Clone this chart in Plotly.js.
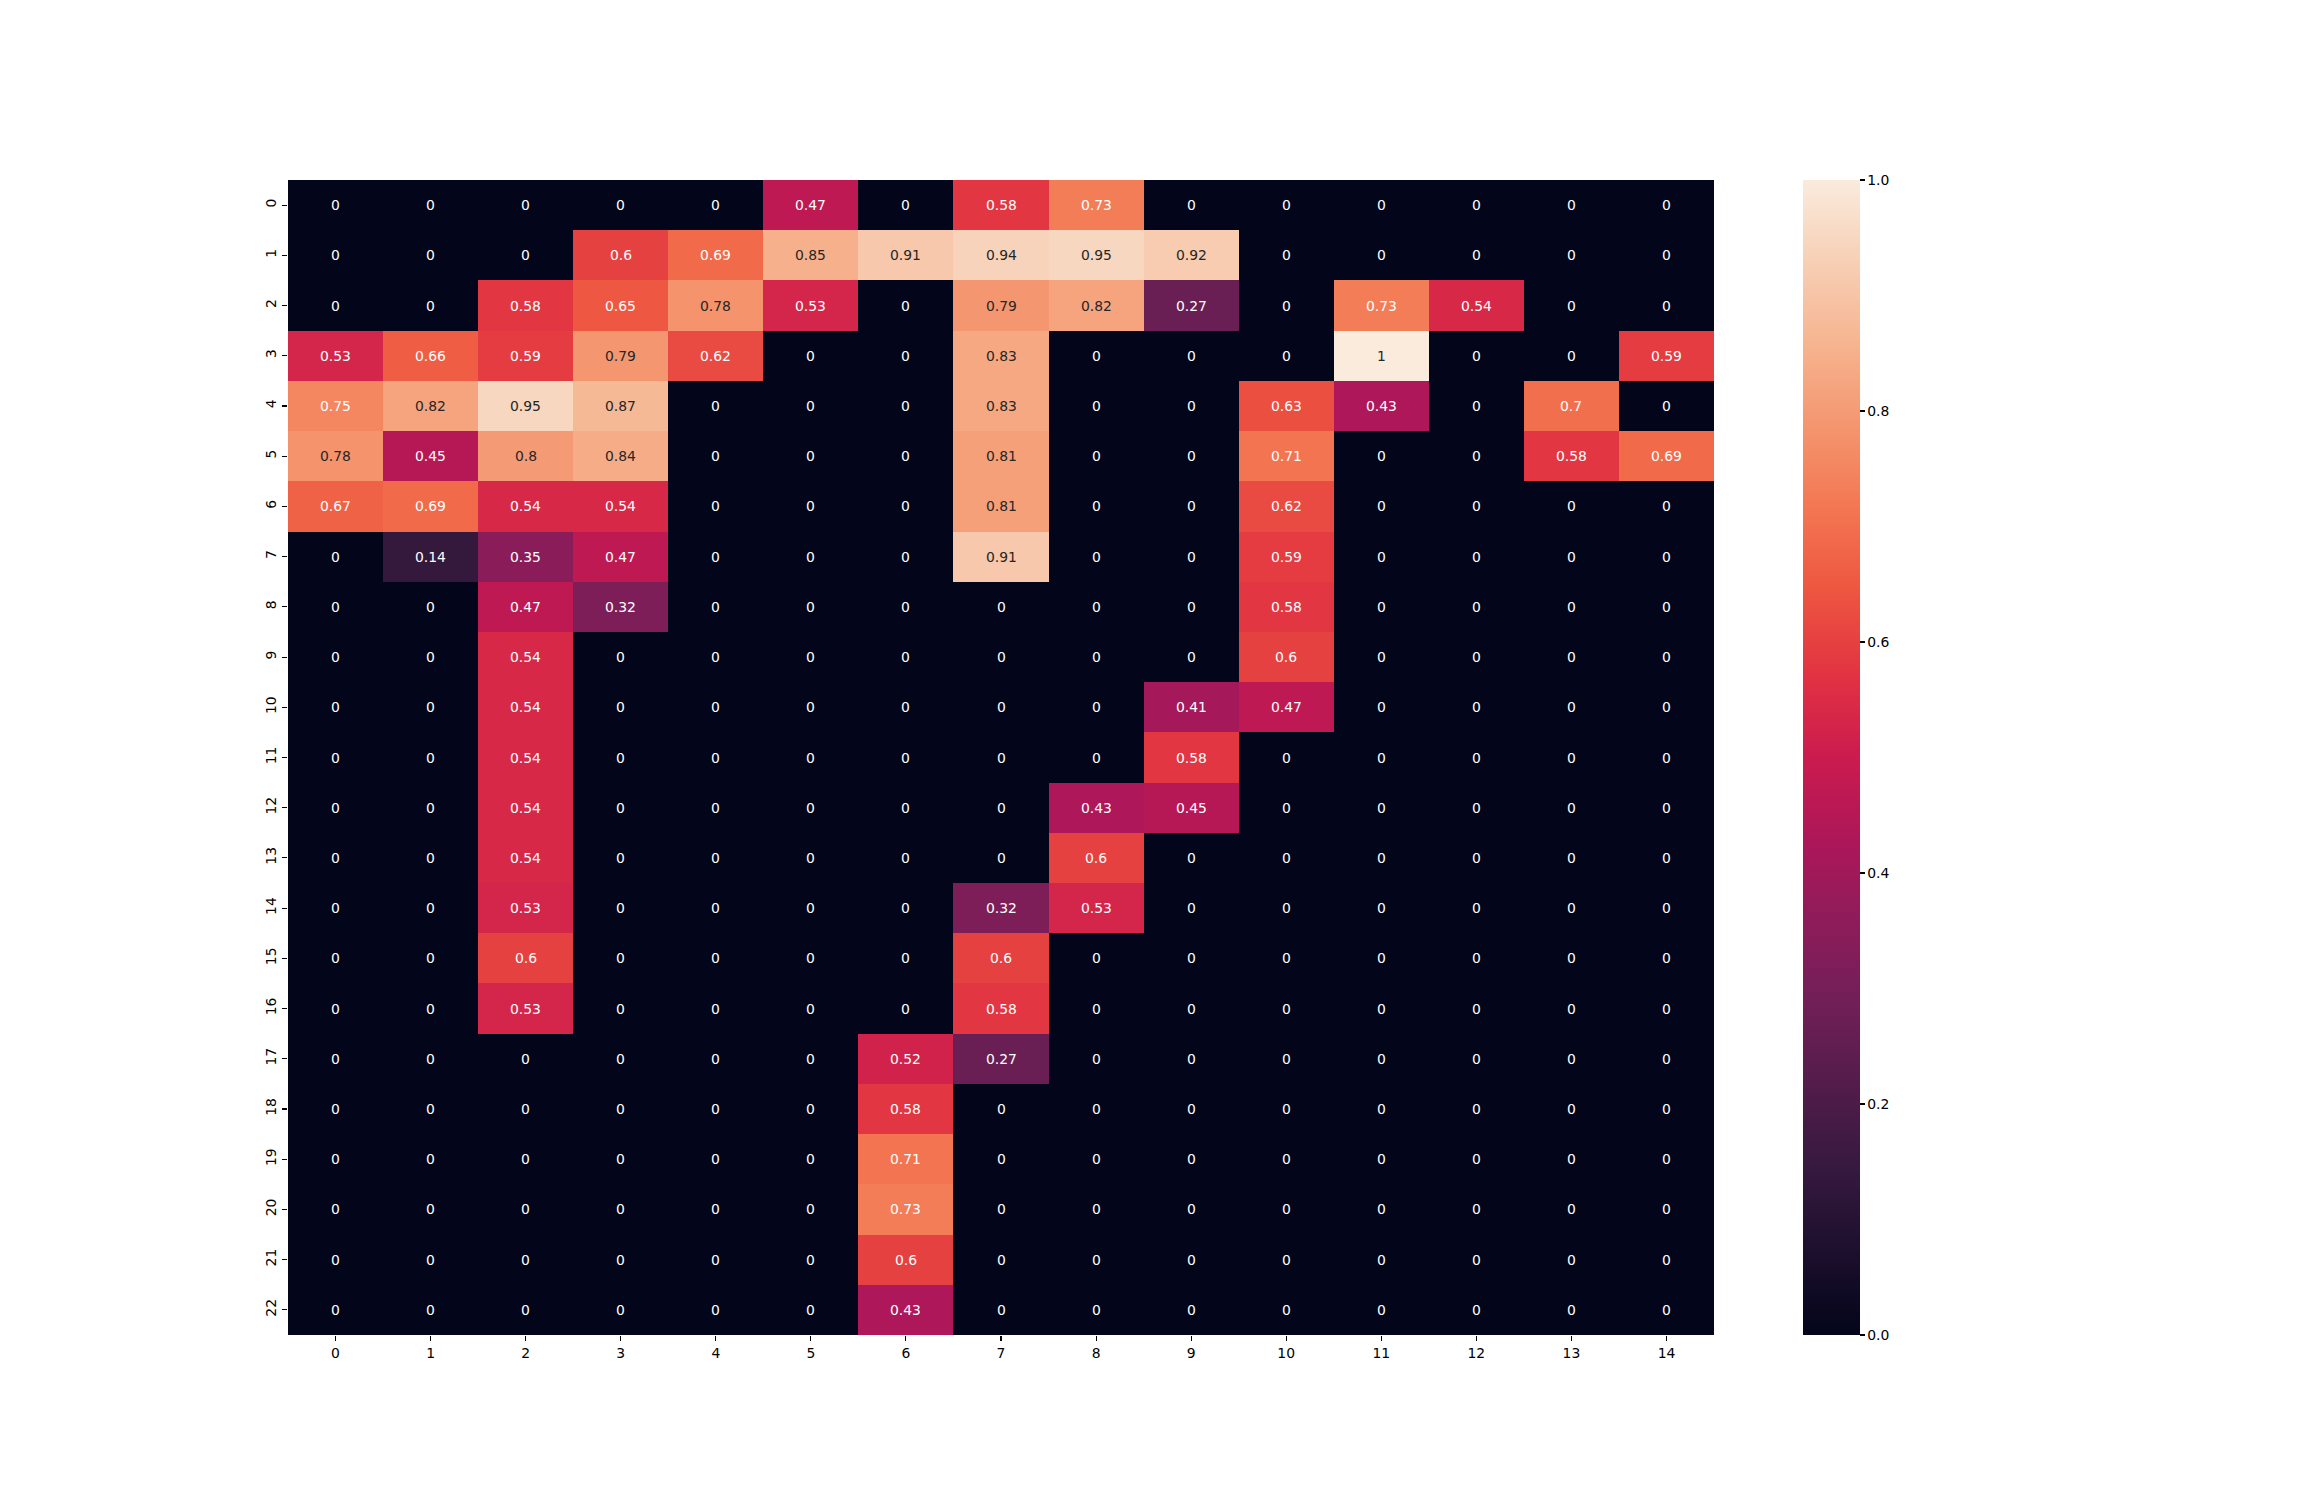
<!DOCTYPE html>
<html>
<head>
<meta charset="utf-8">
<script src="https://cdn.plot.ly/plotly-3.0.1.min.js"></script>
<style>
  html, body { margin: 0; padding: 0; background: #ffffff; }
  #chart { width: 2300px; height: 1500px; }
</style>
</head>
<body>
<div id="chart"></div>
<script>
// Column and row labels
const colLabels = [0,1,2,3,4,5,6,7,8,9,10,11,12,13,14];
const rowLabels = [0,1,2,3,4,5,6,7,8,9,10,11,12,13,14,15,16,17,18,19,20,21,22];

// Cell values, one array per row
const row0  = [0,0,0,0,0,0.47,0,0.58,0.73,0,0,0,0,0,0];
const row1  = [0,0,0,0.6,0.69,0.85,0.91,0.94,0.95,0.92,0,0,0,0,0];
const row2  = [0,0,0.58,0.65,0.78,0.53,0,0.79,0.82,0.27,0,0.73,0.54,0,0];
const row3  = [0.53,0.66,0.59,0.79,0.62,0,0,0.83,0,0,0,1,0,0,0.59];
const row4  = [0.75,0.82,0.95,0.87,0,0,0,0.83,0,0,0.63,0.43,0,0.7,0];
const row5  = [0.78,0.45,0.8,0.84,0,0,0,0.81,0,0,0.71,0,0,0.58,0.69];
const row6  = [0.67,0.69,0.54,0.54,0,0,0,0.81,0,0,0.62,0,0,0,0];
const row7  = [0,0.14,0.35,0.47,0,0,0,0.91,0,0,0.59,0,0,0,0];
const row8  = [0,0,0.47,0.32,0,0,0,0,0,0,0.58,0,0,0,0];
const row9  = [0,0,0.54,0,0,0,0,0,0,0,0.6,0,0,0,0];
const row10 = [0,0,0.54,0,0,0,0,0,0,0.41,0.47,0,0,0,0];
const row11 = [0,0,0.54,0,0,0,0,0,0,0.58,0,0,0,0,0];
const row12 = [0,0,0.54,0,0,0,0,0,0.43,0.45,0,0,0,0,0];
const row13 = [0,0,0.54,0,0,0,0,0,0.6,0,0,0,0,0,0];
const row14 = [0,0,0.53,0,0,0,0,0.32,0.53,0,0,0,0,0,0];
const row15 = [0,0,0.6,0,0,0,0,0.6,0,0,0,0,0,0,0];
const row16 = [0,0,0.53,0,0,0,0,0.58,0,0,0,0,0,0,0];
const row17 = [0,0,0,0,0,0,0.52,0.27,0,0,0,0,0,0,0];
const row18 = [0,0,0,0,0,0,0.58,0,0,0,0,0,0,0,0];
const row19 = [0,0,0,0,0,0,0.71,0,0,0,0,0,0,0,0];
const row20 = [0,0,0,0,0,0,0.73,0,0,0,0,0,0,0,0];
const row21 = [0,0,0,0,0,0,0.6,0,0,0,0,0,0,0,0];
const row22 = [0,0,0,0,0,0,0.43,0,0,0,0,0,0,0,0];

const colorbarTicks = [0,0.2,0.4,0.6,0.8,1.0];

const z = [row0,row1,row2,row3,row4,row5,row6,row7,row8,row9,row10,row11,
           row12,row13,row14,row15,row16,row17,row18,row19,row20,row21,row22];

// approximation of seaborn "rocket"
const rocket = [
  [0.0,   '#03051a'],
  [0.0714,'#1c0f2d'],
  [0.1429,'#35193e'],
  [0.2143,'#521c4b'],
  [0.2857,'#701f57'],
  [0.3571,'#8e1c5a'],
  [0.4286,'#ad1759'],
  [0.5,   '#cb1b4f'],
  [0.5714,'#e13342'],
  [0.6429,'#ed5540'],
  [0.7143,'#f37651'],
  [0.7857,'#f4956e'],
  [0.8571,'#f6b48f'],
  [0.9286,'#f7cfb5'],
  [1.0,   '#faebdd']
];

function fmt(v) { return String(Number(v.toPrecision(2))); }

const annotations = [];
z.forEach((row, i) => {
  row.forEach((v, j) => {
    annotations.push({
      x: colLabels[j], y: rowLabels[i], xref: 'x', yref: 'y',
      text: fmt(v), showarrow: false,
      font: { family: 'DejaVu Sans', size: 13.9, color: v >= 0.77 ? '#262626' : '#ffffff' }
    });
  });
});

const trace = {
  type: 'heatmap',
  x: colLabels, y: rowLabels, z: z,
  zmin: 0, zmax: 1,
  colorscale: rocket,
  xgap: 0, ygap: 0,
  hoverinfo: 'none',
  colorbar: {
    x: 1.0624, xanchor: 'left', xref: 'paper',
    y: 0.5, yanchor: 'middle', len: 1, lenmode: 'fraction',
    thickness: 57, thicknessmode: 'pixels',
    outlinewidth: 0,
    ticks: 'outside', ticklen: 5, tickwidth: 1.1, tickcolor: '#000',
    tickvals: colorbarTicks, tickformat: '.1f',
    tickfont: { family: 'DejaVu Sans', size: 13.9, color: '#000' },
    xpad: 0, ypad: 0
  }
};

const layout = {
  width: 2300, height: 1500,
  margin: { l: 288, r: 586, t: 180, b: 165, pad: 0 },
  paper_bgcolor: '#ffffff', plot_bgcolor: '#ffffff',
  font: { family: 'DejaVu Sans', size: 13.9, color: '#000' },
  showlegend: false,
  xaxis: {
    range: [-0.5, 14.5], tickvals: colLabels, ticktext: colLabels.map(String),
    ticks: 'outside', ticklen: 5, tickwidth: 1.1, tickcolor: '#000',
    showgrid: false, zeroline: false, showline: false,
    tickfont: { family: 'DejaVu Sans', size: 13.9, color: '#000' }
  },
  yaxis: {
    range: [22.5, -0.5], tickvals: rowLabels, ticktext: rowLabels.map(String),
    ticks: 'outside', ticklen: 5, tickwidth: 1.1, tickcolor: '#000',
    tickangle: -90,
    showgrid: false, zeroline: false, showline: false,
    tickfont: { family: 'DejaVu Sans', size: 13.9, color: '#000' }
  },
  annotations: annotations
};

Plotly.newPlot('chart', [trace], layout, { displayModeBar: false, staticPlot: true });
</script>
</body>
</html>
